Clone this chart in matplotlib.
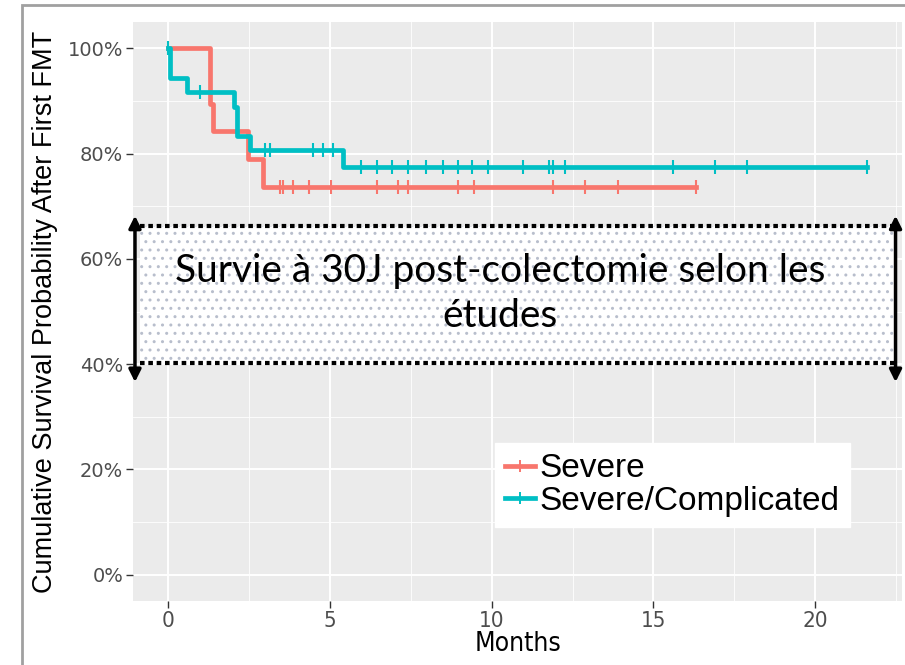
import matplotlib.pyplot as plt
from matplotlib.lines import Line2D
from matplotlib.patches import Rectangle
import numpy as np

# Kaplan-Meier steps (months, % survival)
severe_t = [0, 1.3, 1.4, 2.48, 2.95, 16.3]
severe_s = [100, 89.5, 84.2, 78.9, 73.7, 73.7]
severe_cens = [3.47, 3.56, 3.87, 4.37, 5.05, 6.47, 7.12, 7.43, 8.95, 9.44,
               11.9, 12.9, 13.9, 16.3]

compl_t = [0, 0.05, 0.58, 2.04, 2.12, 2.54, 5.42, 21.6]
compl_s = [100, 94.4, 91.7, 88.9, 83.3, 80.6, 77.5, 77.5]
compl_cens = [0, 1.0, 3.0, 3.16, 4.49, 4.8, 5.1, 5.97, 6.47, 6.93, 7.43,
              7.96, 8.5, 8.95, 9.4, 9.9, 10.96, 11.76, 11.9, 12.26, 15.6,
              16.9, 17.9, 21.6]

labels = ["Severe", "Severe/Complicated"]
colors = ["#F8766D", "#00BFC4"]

band_low, band_high = 40.3, 66.3
band_text = "Survie à 30J post-colectomie selon les\nétudes"

x_ticks = [0, 5, 10, 15, 20]
y_ticks = [0, 20, 40, 60, 80, 100]


def step_value(t, s, x):
    idx = np.searchsorted(t, x, side="right") - 1
    return np.array(s)[idx]


fig = plt.figure(figsize=(9.05, 6.65), dpi=100)
ax = fig.add_axes([0.147, 0.0962, 0.8497, 0.8707])
ax.set_facecolor("#EBEBEB")
for sp in ax.spines.values():
    sp.set_visible(False)

ax.set_xlim(-1.08, 22.68)
ax.set_ylim(-5, 105)
ax.set_xticks(x_ticks)
ax.set_yticks(y_ticks)
ax.set_xticks([2.5, 7.5, 12.5, 17.5, 22.5], minor=True)
ax.set_yticks([10, 30, 50, 70, 90], minor=True)
ax.set_yticklabels([f"{v}%" for v in y_ticks])
ax.set_xticklabels([str(v) for v in x_ticks], fontstretch="condensed",
                   fontsize=16)
ax.grid(True, which="major", color="white", linewidth=1.4)
ax.grid(True, which="minor", color="white", linewidth=0.6)
ax.set_axisbelow(True)
ax.tick_params(which="major", length=5, width=1, color="#333333",
               labelcolor="#4D4D4D", pad=2)
ax.tick_params(axis="y", labelsize=14)
ax.tick_params(which="minor", length=0)

for t, s, cens, c in [(severe_t, severe_s, severe_cens, colors[0]),
                      (compl_t, compl_s, compl_cens, colors[1])]:
    ax.step(t, s, where="post", color=c, linewidth=3.4, zorder=3)
    ax.plot(cens, step_value(t, s, cens), linestyle="none", marker="|",
            markersize=10, markeredgewidth=1.5, color=c, zorder=4)

# hatched band of literature survival
bx = [-0.87, 22.45]
ax.fill_between(bx, band_low, band_high, facecolor="white", hatch="..",
                edgecolor="#B8BECC", linewidth=0, zorder=5)
for yv in (band_low, band_high):
    ax.plot(bx, [yv, yv], color="black", linewidth=3,
            linestyle=(0, (1.1, 0.9)), zorder=6, solid_capstyle="butt")
for xv in (-1.02, 22.48):
    ax.annotate("", xy=(xv, 68.2), xytext=(xv, 36.6),
                arrowprops=dict(arrowstyle="<|-|>", color="black", lw=2.5,
                                mutation_scale=18, shrinkA=0, shrinkB=0),
                zorder=7, annotation_clip=False)
ax.text(10.25, 53.4, band_text, ha="center", va="center", fontsize=28,
        family="Lato", linespacing=1.3, zorder=8)

ax.set_xlabel("Months", fontsize=19, fontstretch="condensed", labelpad=0)
ax.set_ylabel("Cumulative Survival Probability After First FMT", fontsize=19.5,
              family="Liberation Sans", labelpad=7)

handles = [Line2D([], [], color=c, linewidth=3.4, marker="|", markersize=9,
                  markeredgewidth=1.4) for c in colors]
leg = ax.legend(handles, labels, loc="center", bbox_to_anchor=(0.701, 0.200),
                bbox_transform=ax.transAxes, frameon=True, fancybox=False,
                facecolor="white", edgecolor="white", framealpha=1,
                prop={"family": "Liberation Sans", "size": 24},
                handlelength=0.9, handletextpad=0.15, labelspacing=0.05,
                borderpad=0.3, borderaxespad=0)
leg.set_zorder(9)

fig.patches.append(Rectangle((22 / 905, -0.01), 1, 1 - 5 / 665 + 0.01,
                             transform=fig.transFigure, fill=False,
                             edgecolor="#A0A0A0", linewidth=2))

fig.savefig("out.png", dpi=100)
